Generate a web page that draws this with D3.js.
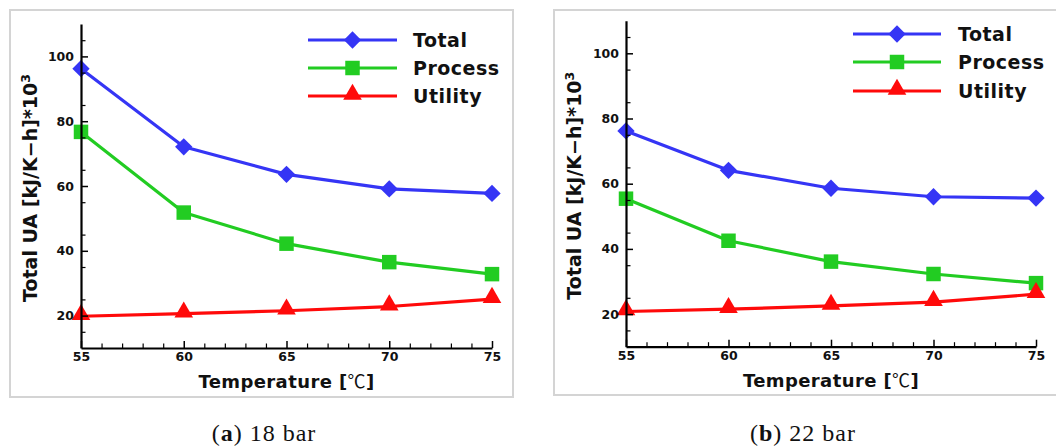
<!DOCTYPE html>
<html>
<head>
<meta charset="utf-8">
<script src="https://cdn.jsdelivr.net/npm/d3@7"></script>
<style>
  html, body { margin: 0; padding: 0; background: #fff; }
  svg { display: block; }
</style>
</head>
<body>
<svg id="chart" width="1056" height="448"></svg>
<script>
// Temperatures (°C) on the x axis
const temperatures = [55, 60, 65, 70, 75];

// Total UA [kJ/K-h]*10^3 at 18 bar
const total18 = [96.2, 72.1, 63.6, 59.1, 57.7];
const process18 = [76.7, 51.8, 42.2, 36.5, 32.8];
const utility18 = [19.8, 20.6, 21.5, 22.8, 25.1];

// Total UA [kJ/K-h]*10^3 at 22 bar
const total22 = [76.2, 64.1, 58.6, 56.0, 55.6];
const process22 = [55.4, 42.5, 36.1, 32.3, 29.5];
const utility22 = [20.8, 21.5, 22.5, 23.7, 26.1];

const xTicks = [55, 60, 65, 70, 75];
const yTicks = [20, 40, 60, 80, 100];
const seriesNames = ["Total", "Process", "Utility"];
const captions = [["a", " 18 bar"], ["b", " 22 bar"]];

const colors = ["#3535f5", "#22cc22", "#ff0a0a"];
// diamond = square turned 45 degrees
const diamond = {
  draw(ctx, size) {
    const r = Math.sqrt(size / 2);
    ctx.moveTo(0, -r); ctx.lineTo(r, 0); ctx.lineTo(0, r); ctx.lineTo(-r, 0); ctx.closePath();
  }
};
const symbols = [diamond, d3.symbolSquare, d3.symbolTriangle];
const symbolSizes = [150, 210, 150];

const labelFont = "'DejaVu Sans', sans-serif";
const svg = d3.select("#chart");

const panels = [
  { box: [10, 10, 503, 387], x: [81, 492], y: [348, 24],
    legend: { x0: 308, x1: 397, ys: [40, 68, 96], tx: 413 },
    series: [total18, process18, utility18], caption: captions[0], cx: 264 },
  { box: [554, 10, 520, 385], x: [626, 1036], y: [346.7, 20.7],
    legend: { x0: 853, x1: 941, ys: [34, 62, 91], tx: 958 },
    series: [total22, process22, utility22], caption: captions[1], cx: 803 }
];

panels.forEach(p => {
  const g = svg.append("g");

  // light frame around each plot
  g.append("rect")
    .attr("x", p.box[0]).attr("y", p.box[1])
    .attr("width", p.box[2]).attr("height", p.box[3])
    .attr("fill", "none").attr("stroke", "#d4d4d4").attr("stroke-width", 2);

  const x = d3.scaleLinear().domain([55, 75]).range(p.x);
  const y = d3.scaleLinear().domain([10, 110]).range(p.y);

  // data lines and markers
  const line = d3.line().x((d, i) => x(temperatures[i])).y(d => y(d));
  p.series.forEach((vals, si) => {
    g.append("path").datum(vals)
      .attr("d", line)
      .attr("fill", "none")
      .attr("stroke", colors[si])
      .attr("stroke-width", 3.2)
      .attr("stroke-linejoin", "round");
    g.selectAll(null).data(vals).enter().append("path")
      .attr("d", d3.symbol().type(symbols[si]).size(symbolSizes[si]))
      .attr("transform", (d, i) => `translate(${x(temperatures[i])},${y(d) + (si === 2 ? -1.5 : 0)})`)
      .attr("fill", colors[si]);
  });

  // minor ticks
  const xMinor = d3.range(56, 75).filter(v => v % 5 !== 0);
  const yMinor = d3.range(15, 110, 10);
  g.append("g").attr("transform", `translate(0,${p.y[0]})`)
    .call(d3.axisBottom(x).tickValues(xMinor).tickSizeInner(-4.5).tickSizeOuter(0).tickFormat(""))
    .call(s => s.select(".domain").remove())
    .call(s => s.selectAll("line").attr("stroke-width", 1.2));
  g.append("g").attr("transform", `translate(${p.x[0]},0)`)
    .call(d3.axisLeft(y).tickValues(yMinor).tickSizeInner(-4.5).tickSizeOuter(0).tickFormat(""))
    .call(s => s.select(".domain").remove())
    .call(s => s.selectAll("line").attr("stroke-width", 1.2));

  // major axes
  const xAxis = g.append("g").attr("transform", `translate(0,${p.y[0]})`)
    .call(d3.axisBottom(x).tickValues(xTicks).tickSizeInner(-7).tickSizeOuter(0).tickPadding(4));
  const yAxis = g.append("g").attr("transform", `translate(${p.x[0]},0)`)
    .call(d3.axisLeft(y).tickValues(yTicks).tickSizeInner(-7).tickSizeOuter(0).tickPadding(7));
  [xAxis, yAxis].forEach(a => {
    a.select(".domain").attr("stroke", "#000").attr("stroke-width", 2.2);
    a.selectAll(".tick line").attr("stroke", "#000").attr("stroke-width", 1.5);
    a.selectAll(".tick text")
      .attr("fill", "#111")
      .style("font-family", labelFont)
      .style("font-weight", "bold")
      .style("font-size", "12.5px");
  });
  xAxis.selectAll(".tick text").attr("dy", "0.75em");

  // axis titles
  const xt = g.append("text")
    .attr("x", (p.x[0] + p.x[1]) / 2).attr("y", p.y[0] + 40)
    .attr("text-anchor", "middle")
    .style("font-family", labelFont).style("font-weight", "bold").style("font-size", "18px")
    .style("letter-spacing", "0.4px")
    .attr("fill", "#111");
  xt.append("tspan").text("Temperature [");
  xt.append("tspan").style("font-family", "'Noto Sans CJK KR', sans-serif").style("font-weight", "normal").text("℃");
  xt.append("tspan").text("]");

  const yt = g.append("text")
    .attr("transform", `translate(${p.box[0] + 27},${(p.y[0] + p.y[1]) / 2 + 2}) rotate(-90)`)
    .attr("text-anchor", "middle")
    .style("font-family", labelFont).style("font-weight", "bold").style("font-size", "19px")
    .attr("fill", "#111");
  yt.append("tspan").text("Total UA [kJ/K−h]*10");
  yt.append("tspan").attr("dy", "-0.55em").style("font-size", "12.5px").text("3");

  // legend
  seriesNames.forEach((name, si) => {
    const ly = p.legend.ys[si];
    g.append("line")
      .attr("x1", p.legend.x0).attr("x2", p.legend.x1)
      .attr("y1", ly).attr("y2", ly)
      .attr("stroke", colors[si]).attr("stroke-width", 3.2);
    g.append("path")
      .attr("d", d3.symbol().type(symbols[si]).size(symbolSizes[si]))
      .attr("transform", `translate(${(p.legend.x0 + p.legend.x1) / 2},${ly + (si === 2 ? -1.5 : 0)})`)
      .attr("fill", colors[si]);
    g.append("text")
      .attr("x", p.legend.tx).attr("y", ly)
      .attr("dy", "0.36em")
      .style("font-family", labelFont).style("font-weight", "bold").style("font-size", "19px")
      .style("letter-spacing", "0.5px")
      .attr("fill", "#111")
      .text(name);
  });

  // caption under the panel
  const cap = svg.append("text")
    .attr("x", p.cx).attr("y", 441)
    .attr("text-anchor", "middle")
    .style("font-family", "'Liberation Serif', serif").style("font-size", "24px")
    .style("letter-spacing", "1px")
    .attr("fill", "#111");
  cap.append("tspan").text("(");
  cap.append("tspan").style("font-weight", "bold").text(p.caption[0]);
  cap.append("tspan").text(")" + p.caption[1]);
});
</script>
</body>
</html>
